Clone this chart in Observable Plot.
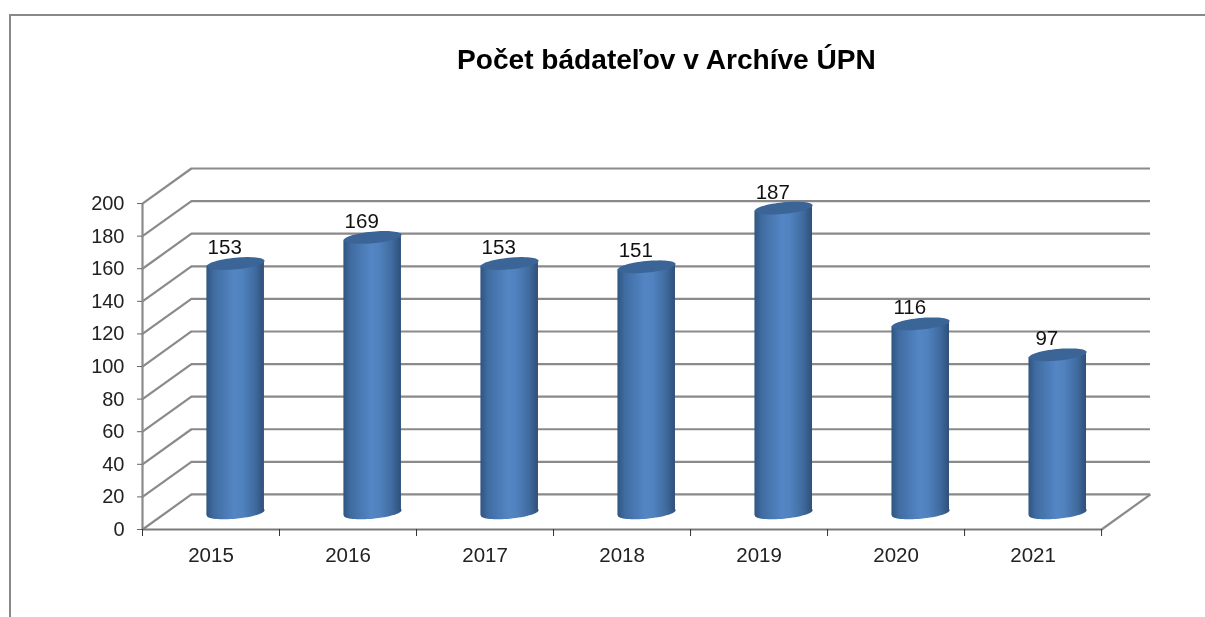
<!DOCTYPE html>
<html lang="sk">
<head>
<meta charset="utf-8">
<script src="https://cdn.jsdelivr.net/npm/d3@7"></script>
<script src="https://cdn.jsdelivr.net/npm/@observablehq/plot@0.6"></script>
<style>
html,body{margin:0;padding:0;background:#fff;width:1205px;height:617px;overflow:hidden;font-family:"Liberation Sans",Arial,sans-serif}
#frame{position:absolute;left:9px;top:14px;right:0;bottom:0;border-top:2px solid #888;border-left:2px solid #888}
#title{position:absolute;left:457px;top:44px;font-weight:bold;font-size:28.1px;line-height:32px;color:#000;white-space:nowrap;filter:blur(0.3px)}
#chart{position:absolute;left:0;top:0;filter:blur(0.35px)}
svg{display:block}
</style>
</head>
<body>
<div id="frame"></div>
<div id="chart"></div>
<div id="title">Počet bádateľov v Archíve ÚPN</div>
<script>
const years = ["2015","2016","2017","2018","2019","2020","2021"];
const counts = [153,169,153,151,187,116,97];
const yTicks = [0,20,40,60,80,100,120,140,160,180,200];
const titleText = "Počet bádateľov v Archíve ÚPN";

// depth of the pseudo-3D box, in data units
const depthX = 0.357, depthY = 21.5;
const midX = 0.18, midY = 10.2;   // where the cylinders stand in the depth
const halfW = 0.21, tilt = 1.7;   // cylinder half width and ellipse slope

const rows = years.map((year,i)=>({year,i,value:counts[i]}));
const bodyRows = rows.flatMap(d=>[-1,1].map(s=>({
  year:d.year,
  x:d.i+0.5+midX+s*halfW,
  y1:midY+s*tilt,
  y2:d.value+midY+s*tilt
})));

const tiltedEllipse = {
  draw(ctx,size){
    const R=Math.sqrt(size/Math.PI), ry=R*0.2, a=-5.5*Math.PI/180, n=64;
    for(let k=0;k<n;k++){
      const t=k/n*2*Math.PI, ex=R*Math.cos(t), ey=ry*Math.sin(t);
      const px=ex*Math.cos(a)-ey*Math.sin(a), py=ex*Math.sin(a)+ey*Math.cos(a);
      k?ctx.lineTo(px,py):ctx.moveTo(px,py);
    }
    ctx.closePath();
  }
};

const gridColor="#8a8a8a";
const svg = Plot.plot({
  width:1205,height:617,
  marginLeft:142,marginRight:55,marginTop:168,marginBottom:88,
  style:{background:"transparent",fontFamily:'"Liberation Sans",Arial,sans-serif'},
  x:{type:"linear",domain:[0,7+depthX]},
  y:{type:"linear",domain:[0,200+depthY]},
  marks:[
    Plot.ruleY(yTicks,{y:d=>d+depthY,x1:depthX,x2:7+depthX,stroke:gridColor,strokeWidth:2.2}),
    Plot.link(yTicks,{x1:0,y1:d=>d,x2:depthX,y2:d=>d+depthY,stroke:gridColor,strokeWidth:2.2}),
    Plot.link([0],{x1:7,y1:0,x2:7+depthX,y2:depthY,stroke:gridColor,strokeWidth:2.2}),
    Plot.ruleX([0],{y1:0,y2:200,stroke:gridColor,strokeWidth:2.2}),
    Plot.ruleY([0],{x1:0,x2:7,stroke:"#7a7a7a",strokeWidth:2.2}),
    Plot.axisY({ticks:yTicks,tickSize:5,tickPadding:13,label:null,fontSize:20,stroke:"#666",color:"#222",line:false}),
    Plot.axisX({ticks:d3.range(8),tickSize:7,tickFormat:()=>"",label:null,stroke:"#333"}),
    Plot.text(rows,{x:d=>d.i+0.5,y:0,text:"year",dy:26,fontSize:20.5,fill:"#222"}),
    Plot.dot(rows,{x:d=>d.i+0.5+midX,y:midY,r:29,symbol:tiltedEllipse,fill:"url(#cyl)",stroke:"none"}),
    Plot.areaY(bodyRows,{x:"x",y1:"y1",y2:"y2",z:"year",fill:"url(#cyl)"}),
    Plot.dot(rows,{x:d=>d.i+0.5+midX,y:d=>d.value+midY,r:29,symbol:tiltedEllipse,fill:"#3b6596",stroke:"none"}),
    Plot.text(rows,{x:d=>d.i+0.5+midX-0.08,y:d=>d.value+20,text:"value",fontSize:20.5,fill:"#111"})
  ]
});
const defs=d3.select(svg).insert("defs",":first-child");
const g=defs.append("linearGradient").attr("id","cyl").attr("x1","0").attr("x2","1").attr("y1","0").attr("y2","0");
[[0,"#2f5480"],[0.12,"#3f6ba0"],[0.48,"#5486c5"],[0.62,"#5082bf"],[0.85,"#3f6a9e"],[1,"#2f4f78"]]
  .forEach(([o,c])=>g.append("stop").attr("offset",o).attr("stop-color",c));
document.getElementById("chart").append(svg);
document.getElementById("title").textContent=titleText;
</script>
</body>
</html>
